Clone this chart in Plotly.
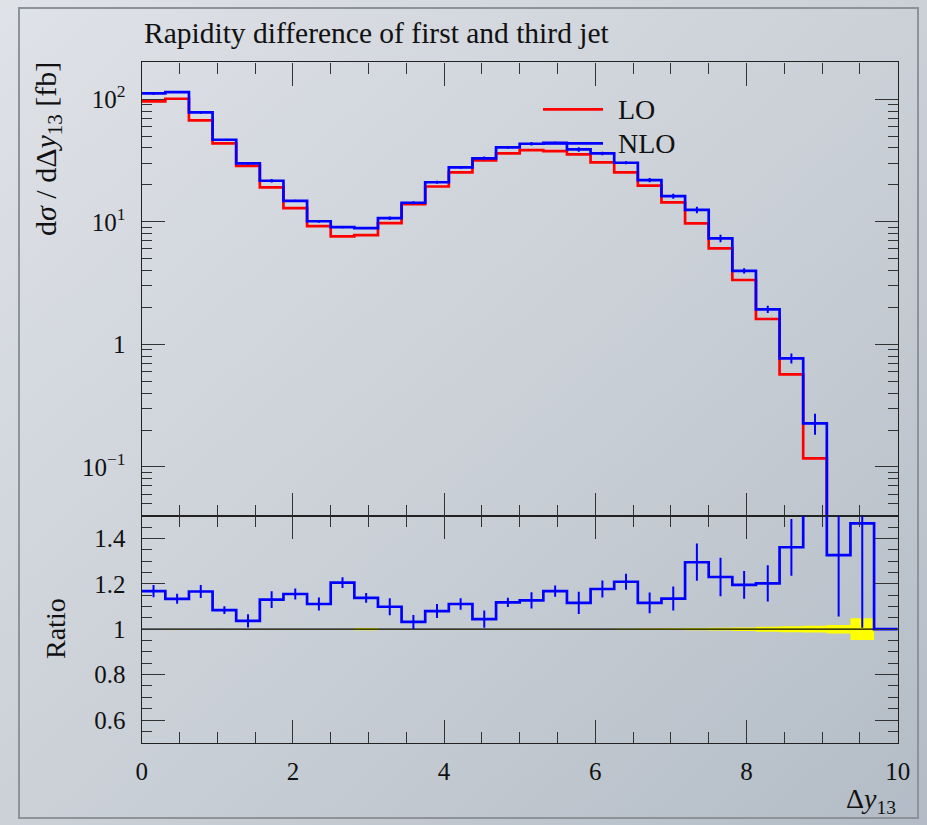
import base64
import plotly.graph_objects as go

# Delta y_13 binning: 32 bins of width 0.3125 from 0 to 10
bin_edges = [0.0, 0.3125, 0.625, 0.9375, 1.25, 1.5625, 1.875, 2.1875, 2.5, 2.8125,
             3.125, 3.4375, 3.75, 4.0625, 4.375, 4.6875, 5.0, 5.3125, 5.625, 5.9375,
             6.25, 6.5625, 6.875, 7.1875, 7.5, 7.8125, 8.125, 8.4375, 8.75, 9.0625,
             9.375, 9.6875, 10.0]

# d sigma / d Delta y_13 [fb]
lo = [96.0, 100.8, 67.2, 43.6, 28.6, 19.1, 12.9, 9.23, 7.60, 7.79,
      9.76, 13.9, 19.4, 25.3, 31.7, 36.1, 38.4, 37.7, 35.5, 30.5,
      25.3, 19.7, 14.4, 9.70, 6.07, 3.35, 1.61, 0.569, 0.1175, 0.025,
      0.008, 0.0]
nlo = [111.5, 114.3, 78.0, 46.7, 29.9, 21.6, 14.8, 10.1, 9.05, 8.88,
       10.7, 14.3, 21.0, 27.8, 32.9, 40.4, 43.3, 44.1, 38.9, 36.1,
       30.3, 21.9, 16.2, 12.5, 7.32, 3.98, 1.93, 0.769, 0.227, 0.033,
       0.0117, 0.0]
nlo_err = [2.6, 2.2, 1.9, 0.73, 0.84, 0.71, 0.31, 0.26, 0.18, 0.17,
           0.36, 0.43, 0.6, 0.63, 1.2, 0.72, 1.38, 0.94, 1.7, 1.13,
           0.88, 0.9, 0.76, 0.79, 0.51, 0.2, 0.13, 0.071, 0.044, 0.0066,
           0.0036, 0.0]

# NLO / LO ratio with its statistical error, and the LO reference band
ratio = [1.168, 1.134, 1.166, 1.084, 1.037, 1.130, 1.155, 1.111, 1.205, 1.138,
         1.099, 1.032, 1.080, 1.111, 1.044, 1.118, 1.127, 1.168, 1.116, 1.177,
         1.209, 1.116, 1.135, 1.295, 1.230, 1.195, 1.202, 1.361, 1.93, 1.326,
         1.466, 1.0]
ratio_err = [0.027, 0.022, 0.029, 0.017, 0.029, 0.037, 0.024, 0.029, 0.024, 0.022,
             0.037, 0.031, 0.031, 0.025, 0.038, 0.020, 0.036, 0.025, 0.049, 0.037,
             0.035, 0.046, 0.053, 0.082, 0.085, 0.061, 0.080, 0.125, 0.37, 0.27,
             0.46, 0.0]
lo_band = [0.001, 0.001, 0.001, 0.001, 0.001, 0.001, 0.001, 0.001, 0.001, 0.005,
           0.001, 0.001, 0.001, 0.001, 0.001, 0.001, 0.001, 0.001, 0.001, 0.001,
           0.002, 0.003, 0.004, 0.005, 0.006, 0.008, 0.011, 0.013, 0.015, 0.019,
           0.048, 0.0]

W, H = 927, 825
FONT = "Liberation Serif"
RED, BLUE, YELLOW = "#ff0000", "#0000ff", "#ffff00"

centers = [(a + b) / 2 for a, b in zip(bin_edges[:-1], bin_edges[1:])]


def step(vals, log=False):
    ys = [(v if (v > 0 or not log) else None) for v in vals]
    return bin_edges, ys + [ys[-1]]


fig = go.Figure()

# --- main panel ---
x, y = step(lo, log=True)
fig.add_trace(go.Scatter(x=x, y=y, mode="lines", line=dict(shape="hv", color=RED, width=2.7),
                         xaxis="x", yaxis="y", showlegend=False))
x, y = step(nlo, log=True)
fig.add_trace(go.Scatter(x=x, y=y, mode="lines", line=dict(shape="hv", color=BLUE, width=2.7),
                         xaxis="x", yaxis="y", showlegend=False))
fig.add_trace(go.Scatter(x=centers, y=[v if v > 0 else None for v in nlo], mode="markers",
                         marker=dict(size=2, color=BLUE),
                         error_y=dict(type="data", array=nlo_err, color=BLUE, thickness=2, width=0),
                         xaxis="x", yaxis="y", showlegend=False))

# --- ratio panel ---
band_lo = [1 - b for b in lo_band]
band_hi = [1 + b for b in lo_band]
x, y = step(band_lo)
fig.add_trace(go.Scatter(x=x, y=y, mode="lines", line=dict(shape="hv", width=0, color=YELLOW),
                         xaxis="x2", yaxis="y2", showlegend=False))
x, y = step(band_hi)
fig.add_trace(go.Scatter(x=x, y=y, mode="lines", line=dict(shape="hv", width=0, color=YELLOW),
                         fill="tonexty", fillcolor=YELLOW,
                         xaxis="x2", yaxis="y2", showlegend=False))
fig.add_trace(go.Scatter(x=[0, 10], y=[1, 1], mode="lines", line=dict(color="black", width=1.2),
                         xaxis="x2", yaxis="y2", showlegend=False))
x, y = step(ratio)
fig.add_trace(go.Scatter(x=x, y=y, mode="lines", line=dict(shape="hv", color=BLUE, width=2.7),
                         xaxis="x2", yaxis="y2", showlegend=False))
fig.add_trace(go.Scatter(x=centers, y=ratio, mode="markers", marker=dict(size=2, color=BLUE),
                         error_y=dict(type="data", array=ratio_err, color=BLUE, thickness=2, width=0),
                         xaxis="x2", yaxis="y2", showlegend=False))

# --- geometry (pixels -> paper) ---
px_l, px_r = 141.7, 897.7
py_top, py_mid, py_bot = 62.3, 515.7, 742.7
xdom = [px_l / W, px_r / W]
main_dom = [1 - py_mid / H, 1 - py_top / H]
ratio_dom = [1 - py_bot / H, 1 - py_mid / H]

tick_col = "#333333"
tfont = dict(family=FONT, size=25, color="#111111")

xcommon = dict(range=[0, 10], domain=xdom, showline=True, linecolor="#222222", linewidth=1.4,
               mirror="ticks", ticks="inside", dtick=2, tick0=0, ticklen=23, tickwidth=1.3,
               tickcolor=tick_col, showgrid=False, zeroline=False, automargin=False,
               minor=dict(dtick=0.5, tick0=0, ticks="inside", ticklen=11, tickwidth=1.3,
                          tickcolor=tick_col, showgrid=False))

log_minor = [m * 10 ** e for e in (-2, -1, 0, 1, 2) for m in range(2, 10)]

fig.update_layout(
    width=W, height=H,
    margin=dict(l=0, r=0, t=0, b=0, autoexpand=False),
    paper_bgcolor="#c8ced5",
    plot_bgcolor="rgba(0,0,0,0)",
    font=dict(family=FONT, color="#111111"),
    xaxis=dict(xcommon, anchor="y", showticklabels=False),
    yaxis=dict(type="log", range=[-1.398, 2.301], domain=main_dom, anchor="x",
               showline=True, linecolor="#222222", linewidth=1.4, mirror="ticks",
               ticks="inside", ticklen=23, tickwidth=1.3, tickcolor=tick_col,
               tickvals=[0.1, 1, 10, 100],
               ticktext=["10<sup>\u22121</sup>", "1", "10<sup>1</sup>", "10<sup>2</sup>"],
               tickfont=tfont, ticklabelstandoff=10, showgrid=False, zeroline=False,
               automargin=False,
               minor=dict(tickvals=log_minor, ticks="inside", ticklen=10, tickwidth=1.3,
                          tickcolor=tick_col, showgrid=False)),
    xaxis2=dict(xcommon, anchor="y2", showticklabels=True, tickfont=tfont, ticklabelstandoff=6),
    yaxis2=dict(range=[0.5, 1.5], domain=ratio_dom, anchor="x2",
                showline=True, linecolor="#222222", linewidth=1.4, mirror="ticks",
                ticks="inside", ticklen=23, tickwidth=1.3, tickcolor=tick_col,
                tickvals=[0.6, 0.8, 1.0, 1.2, 1.4], ticktext=["0.6", "0.8", "1", "1.2", "1.4"],
                tickfont=tfont, ticklabelstandoff=10, showgrid=False, zeroline=False,
                automargin=False,
                minor=dict(dtick=0.05, tick0=0.5, ticks="inside", ticklen=10, tickwidth=1.3,
                           tickcolor=tick_col, showgrid=False)),
)

# soft backdrop with a thin frame
svg = f"""<svg xmlns='http://www.w3.org/2000/svg' width='{W}' height='{H}'>
<defs><linearGradient id='g' x1='0' y1='0' x2='1' y2='1'>
<stop offset='0' stop-color='#dfe2e7'/><stop offset='0.55' stop-color='#c9cfd6'/>
<stop offset='1' stop-color='#b3bcc6'/></linearGradient></defs>
<rect width='{W}' height='{H}' fill='url(#g)'/>
<rect x='19' y='8' width='899' height='810' fill='none' stroke='#8d9399' stroke-width='2'/>
</svg>"""
fig.add_layout_image(dict(source="data:image/svg+xml;base64," + base64.b64encode(svg.encode()).decode(),
                          xref="paper", yref="paper", x=0, y=1, sizex=1, sizey=1,
                          sizing="stretch", layer="below", xanchor="left", yanchor="top"))

# legend drawn as line samples + labels inside the main panel
for label, color, py in (("LO", RED, 109.3), ("NLO", BLUE, 143.3)):
    fig.add_shape(type="line", xref="paper", yref="paper", x0=543 / W, x1=603 / W,
                  y0=1 - py / H, y1=1 - py / H, line=dict(color=color, width=2.7))
    fig.add_annotation(text=label, xref="paper", yref="paper", x=616 / W, y=1 - py / H,
                       xanchor="left", yanchor="middle", showarrow=False,
                       font=dict(family=FONT, size=28, color="#111111"))

# titles
fig.add_annotation(text="Rapidity difference of first and third jet", xref="paper", yref="paper",
                   x=px_l / W, y=1 - 33 / H, xanchor="left", yanchor="middle", showarrow=False,
                   font=dict(family=FONT, size=29.5, color="#111111"))
fig.add_annotation(text="d<i>\u03c3</i> / d\u0394<i>y</i><sub>13</sub> [fb]", xref="paper", yref="paper",
                   x=48 / W, y=1 - 60 / H, xanchor="center", yanchor="top", textangle=-90,
                   showarrow=False, font=dict(family=FONT, size=30, color="#111111"))
fig.add_annotation(text="Ratio", xref="paper", yref="paper", x=55 / W, y=1 - 629 / H,
                   xanchor="center", yanchor="middle", textangle=-90, showarrow=False,
                   font=dict(family=FONT, size=28, color="#111111"))
fig.add_annotation(text="\u0394<i>y</i><sub>13</sub>", xref="paper", yref="paper",
                   x=px_r / W, y=1 - 800 / H, xanchor="right", yanchor="middle", showarrow=False,
                   font=dict(family=FONT, size=28, color="#111111"))

fig.write_html("out.html")
